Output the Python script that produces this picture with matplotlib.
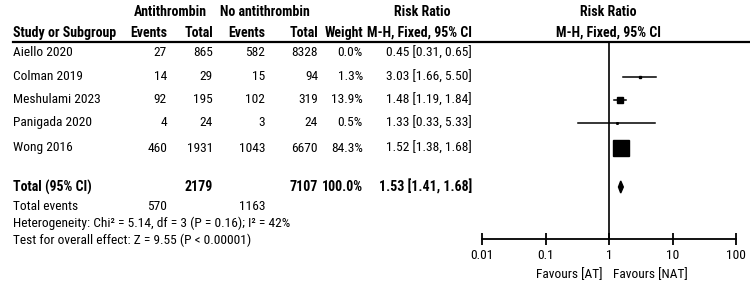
import numpy as np
import matplotlib.pyplot as plt
from matplotlib.patches import Polygon
from matplotlib import font_manager

# data
estudos = ["Aiello 2020", "Colman 2019", "Meshulami 2023", "Panigada 2020", "Wong 2016"]
eventos_at = [27, 14, 92, 4, 460]
total_at = [865, 29, 195, 24, 1931]
eventos_nat = [582, 15, 102, 3, 1043]
total_nat = [8328, 94, 319, 24, 6670]
pesos = [0.0, 1.3, 13.9, 0.5, 84.3]
rr = [0.45, 3.03, 1.48, 1.33, 1.52]
ic_inf = [0.31, 1.66, 1.19, 0.33, 1.38]
ic_sup = [0.65, 5.50, 1.84, 5.33, 1.68]
rr_total, ic_total_inf, ic_total_sup = 1.53, 1.41, 1.68
soma_at, soma_nat = 2179, 7107
total_eventos_at, total_eventos_nat = 570, 1163
ticks = [0.01, 0.1, 1, 10, 100]
tick_labels = ["0.01", "0.1", "1", "10", "100"]

# procura uma fonte estreita (tipo Arial Narrow)
arquivos = font_manager.findSystemFonts() + [f.fname for f in font_manager.fontManager.ttflist]
def achar(nome_arq):
    for a in arquivos:
        if a.replace('\\', '/').split('/')[-1].lower() == nome_arq:
            return a
    return None

candidatas = [
    ('liberationsansnarrow-regular.ttf', 'liberationsansnarrow-bold.ttf', 10.5),
    ('notosans-condensed.ttf', 'notosans-condensedbold.ttf', 9.5),
    ('robotocondensed-regular.ttf', 'robotocondensed-bold.ttf', 10),
    ('dejavusanscondensed.ttf', 'dejavusanscondensed-bold.ttf', 9),
]
fp_reg = fp_neg = None
for r, b, tam in candidatas:
    ra, ba = achar(r), achar(b)
    if ra and ba:
        fp_reg = font_manager.FontProperties(fname=ra)
        fp_neg = font_manager.FontProperties(fname=ba)
        fs, fs_neg = tam * 0.96, tam
        break
if fp_reg is None:
    fp_reg = font_manager.FontProperties(family='Liberation Sans')
    fp_neg = font_manager.FontProperties(family='Liberation Sans', weight='bold')
    fs, fs_neg = 9, 8.5

W, H = 750, 286
fig = plt.figure(figsize=(7.5, 2.86), dpi=100)


def txt(x, y, s, ha='left', bold=False):
    fp = (fp_neg if bold else fp_reg).copy()
    fp.set_size(fs_neg if bold else fs)
    fig.text(x / W, 1 - y / H, s, ha=ha, va='center', fontproperties=fp)


# cabecalho
txt(170, 12, "Antithrombin", 'center', True)
txt(265, 12, "No antithrombin", 'center', True)
txt(422, 12, "Risk Ratio", 'center', True)
txt(608, 12, "Risk Ratio", 'center', True)
txt(13, 33, "Study or Subgroup", bold=True)
txt(167, 33, "Events", 'right', True)
txt(213, 33, "Total", 'right', True)
txt(265, 33, "Events", 'right', True)
txt(318, 33, "Total", 'right', True)
txt(363, 33, "Weight", 'right', True)
txt(472, 33, "M-H, Fixed, 95% CI", 'right', True)
txt(608, 33, "M-H, Fixed, 95% CI", 'center', True)
fig.add_artist(plt.Line2D([13 / W, 1], [1 - 42 / H] * 2, color='black', lw=1.6))

linhas_y = [53, 77, 100, 123, 148]
for i, y in enumerate(linhas_y):
    txt(13, y, estudos[i])
    txt(167, y, str(eventos_at[i]), 'right')
    txt(213, y, str(total_at[i]), 'right')
    txt(265, y, str(eventos_nat[i]), 'right')
    txt(318, y, str(total_nat[i]), 'right')
    txt(363, y, f"{pesos[i]:.1f}%", 'right')
    txt(472, y, f"{rr[i]:.2f} [{ic_inf[i]:.2f}, {ic_sup[i]:.2f}]", 'right')

y_total = 187
txt(13, y_total, "Total (95% CI)", bold=True)
txt(213, y_total, str(soma_at), 'right', True)
txt(318, y_total, str(soma_nat), 'right', True)
txt(363, y_total, "100.0%", 'right', True)
txt(472, y_total, f"{rr_total:.2f} [{ic_total_inf:.2f}, {ic_total_sup:.2f}]", 'right', True)
txt(13, 206, "Total events")
txt(167, 206, str(total_eventos_at), 'right')
txt(265, 206, str(total_eventos_nat), 'right')
txt(13, 223, "Heterogeneity: Chi² = 5.14, df = 3 (P = 0.16); I² = 42%")
txt(13, 240, "Test for overall effect: Z = 9.55 (P < 0.00001)")

# forest plot
x0, x1, ytop, ybot = 482, 736, 42, 239
ax = fig.add_axes([x0 / W, 1 - ybot / H, (x1 - x0) / W, (ybot - ytop) / H])
ax.set_xscale('log')
ax.set_xlim(0.01, 100)
ax.set_ylim(ybot, ytop)
ax.patch.set_alpha(0)
for s in ['top', 'left', 'right']:
    ax.spines[s].set_visible(False)
ax.spines['bottom'].set_linewidth(1.3)
ax.set_xticks(ticks)
fp_tick = fp_reg.copy()
fp_tick.set_size(fs)
ax.set_xticklabels(tick_labels, fontproperties=fp_tick)
ax.minorticks_off()
ax.tick_params(axis='x', direction='inout', length=9, width=1.3, pad=3)
ax.set_yticks([])
ax.axvline(1, color='black', lw=1.2)

for i, y in enumerate(linhas_y):
    if pesos[i] <= 0:
        continue
    ax.plot([ic_inf[i], ic_sup[i]], [y, y], color='black', lw=1.1)
    lado = 1.75 * np.sqrt(pesos[i])
    ax.plot(rr[i], y, marker='s', color='black', markersize=max(lado, 1.5) * 0.72, ls='none')

ax.add_patch(Polygon([(ic_total_inf, y_total), (rr_total, y_total - 6),
                      (ic_total_sup, y_total), (rr_total, y_total + 6)],
                     closed=True, color='black'))

txt(603, 275, "Favours [AT]", 'right')
txt(613, 275, "Favours [NAT]")

fig.savefig("out.png", dpi=100)
